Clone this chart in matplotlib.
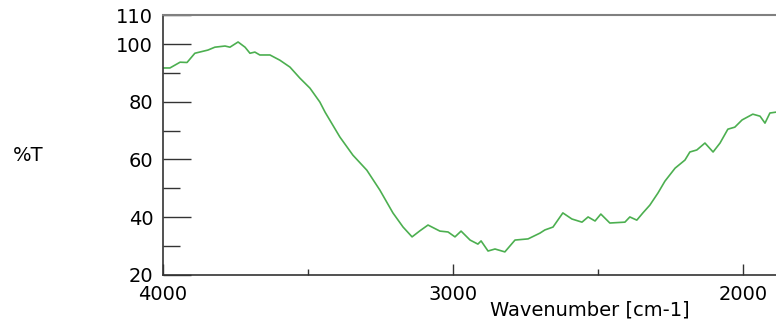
import matplotlib
matplotlib.use("Agg")
import matplotlib.pyplot as plt
from matplotlib.ticker import FixedLocator

# values
wavenumber = [4000, 3976, 3941, 3917, 3890, 3845, 3821, 3786, 3769, 3741,
              3717, 3700, 3683, 3666, 3631, 3597, 3562, 3528, 3493, 3459,
              3441, 3390, 3345, 3297, 3252, 3207, 3172, 3141, 3114, 3086,
              3045, 3017, 2993, 2972, 2941, 2914, 2903, 2879, 2855, 2821,
              2786, 2741, 2700, 2683, 2655, 2621, 2590, 2555, 2534, 2510,
              2490, 2459, 2407, 2390, 2366, 2345, 2321, 2293, 2269, 2234,
              2200, 2183, 2159, 2131, 2103, 2079, 2052, 2028, 2003, 1966,
              1941, 1924, 1907, 1886]
transmittance = [91.7, 91.7, 93.7, 93.6, 96.8, 97.9, 98.9, 99.3, 98.9, 100.7,
                 98.9, 96.8, 97.2, 96.2, 96.2, 94.4, 92.0, 88.2, 84.7, 79.9,
                 76.4, 67.8, 61.5, 56.3, 49.4, 41.5, 36.6, 33.2, 35.3, 37.3,
                 35.2, 34.9, 33.2, 35.2, 32.1, 30.7, 31.8, 28.3, 29.0, 28.0,
                 32.1, 32.5, 34.5, 35.6, 36.6, 41.5, 39.4, 38.3, 40.1, 38.7,
                 41.1, 38.0, 38.3, 40.1, 39.0, 41.5, 44.2, 48.4, 52.5, 57.0,
                 59.8, 62.6, 63.3, 65.7, 62.6, 65.7, 70.5, 71.2, 73.7, 75.7,
                 75.0, 72.6, 76.1, 76.4]

y_ticks = [20, 40, 60, 80, 100, 110]
y_minor = [30, 50, 70, 90]
x_ticks = [4000, 3000, 2000]
x_minor = [3500, 2500]

fig = plt.figure(figsize=(7.76, 3.22), dpi=100)
ax = fig.add_axes([0.210, 0.146, 0.790, 0.807])

ax.plot(wavenumber, transmittance, color="#4caf50", lw=1.2)

ax.set_xlim(4000, 1886)
ax.set_ylim(20, 110)

ax.spines["right"].set_visible(False)
for s in ["left", "bottom"]:
    ax.spines[s].set_color("#333333")
    ax.spines[s].set_linewidth(1.2)
ax.spines["top"].set_color("#808080")
ax.spines["top"].set_linewidth(1.5)

ax.yaxis.set_major_locator(FixedLocator(y_ticks))
ax.yaxis.set_minor_locator(FixedLocator(y_minor))
ax.xaxis.set_major_locator(FixedLocator(x_ticks))
ax.xaxis.set_minor_locator(FixedLocator(x_minor))
ax.set_yticklabels([str(v) for v in y_ticks])
ax.set_xticklabels([str(v) for v in x_ticks])

ax.tick_params(axis="y", which="major", direction="in", length=20, width=1,
               color="#333333", labelsize=14, pad=7)
ax.tick_params(axis="y", which="minor", direction="in", length=12, width=1,
               color="#333333")
ax.tick_params(axis="x", which="major", direction="in", length=8, width=1,
               color="#333333", labelsize=14, pad=7)
ax.tick_params(axis="x", which="minor", direction="in", length=4.5, width=1,
               color="#333333")

fig.text(13 / 776, 1 - 155 / 322, "%T", fontsize=14, ha="left", va="center")
fig.text(490 / 776, 2 / 322, "Wavenumber [cm-1]", fontsize=14,
         ha="left", va="bottom")

fig.savefig("out.png", dpi=100)
